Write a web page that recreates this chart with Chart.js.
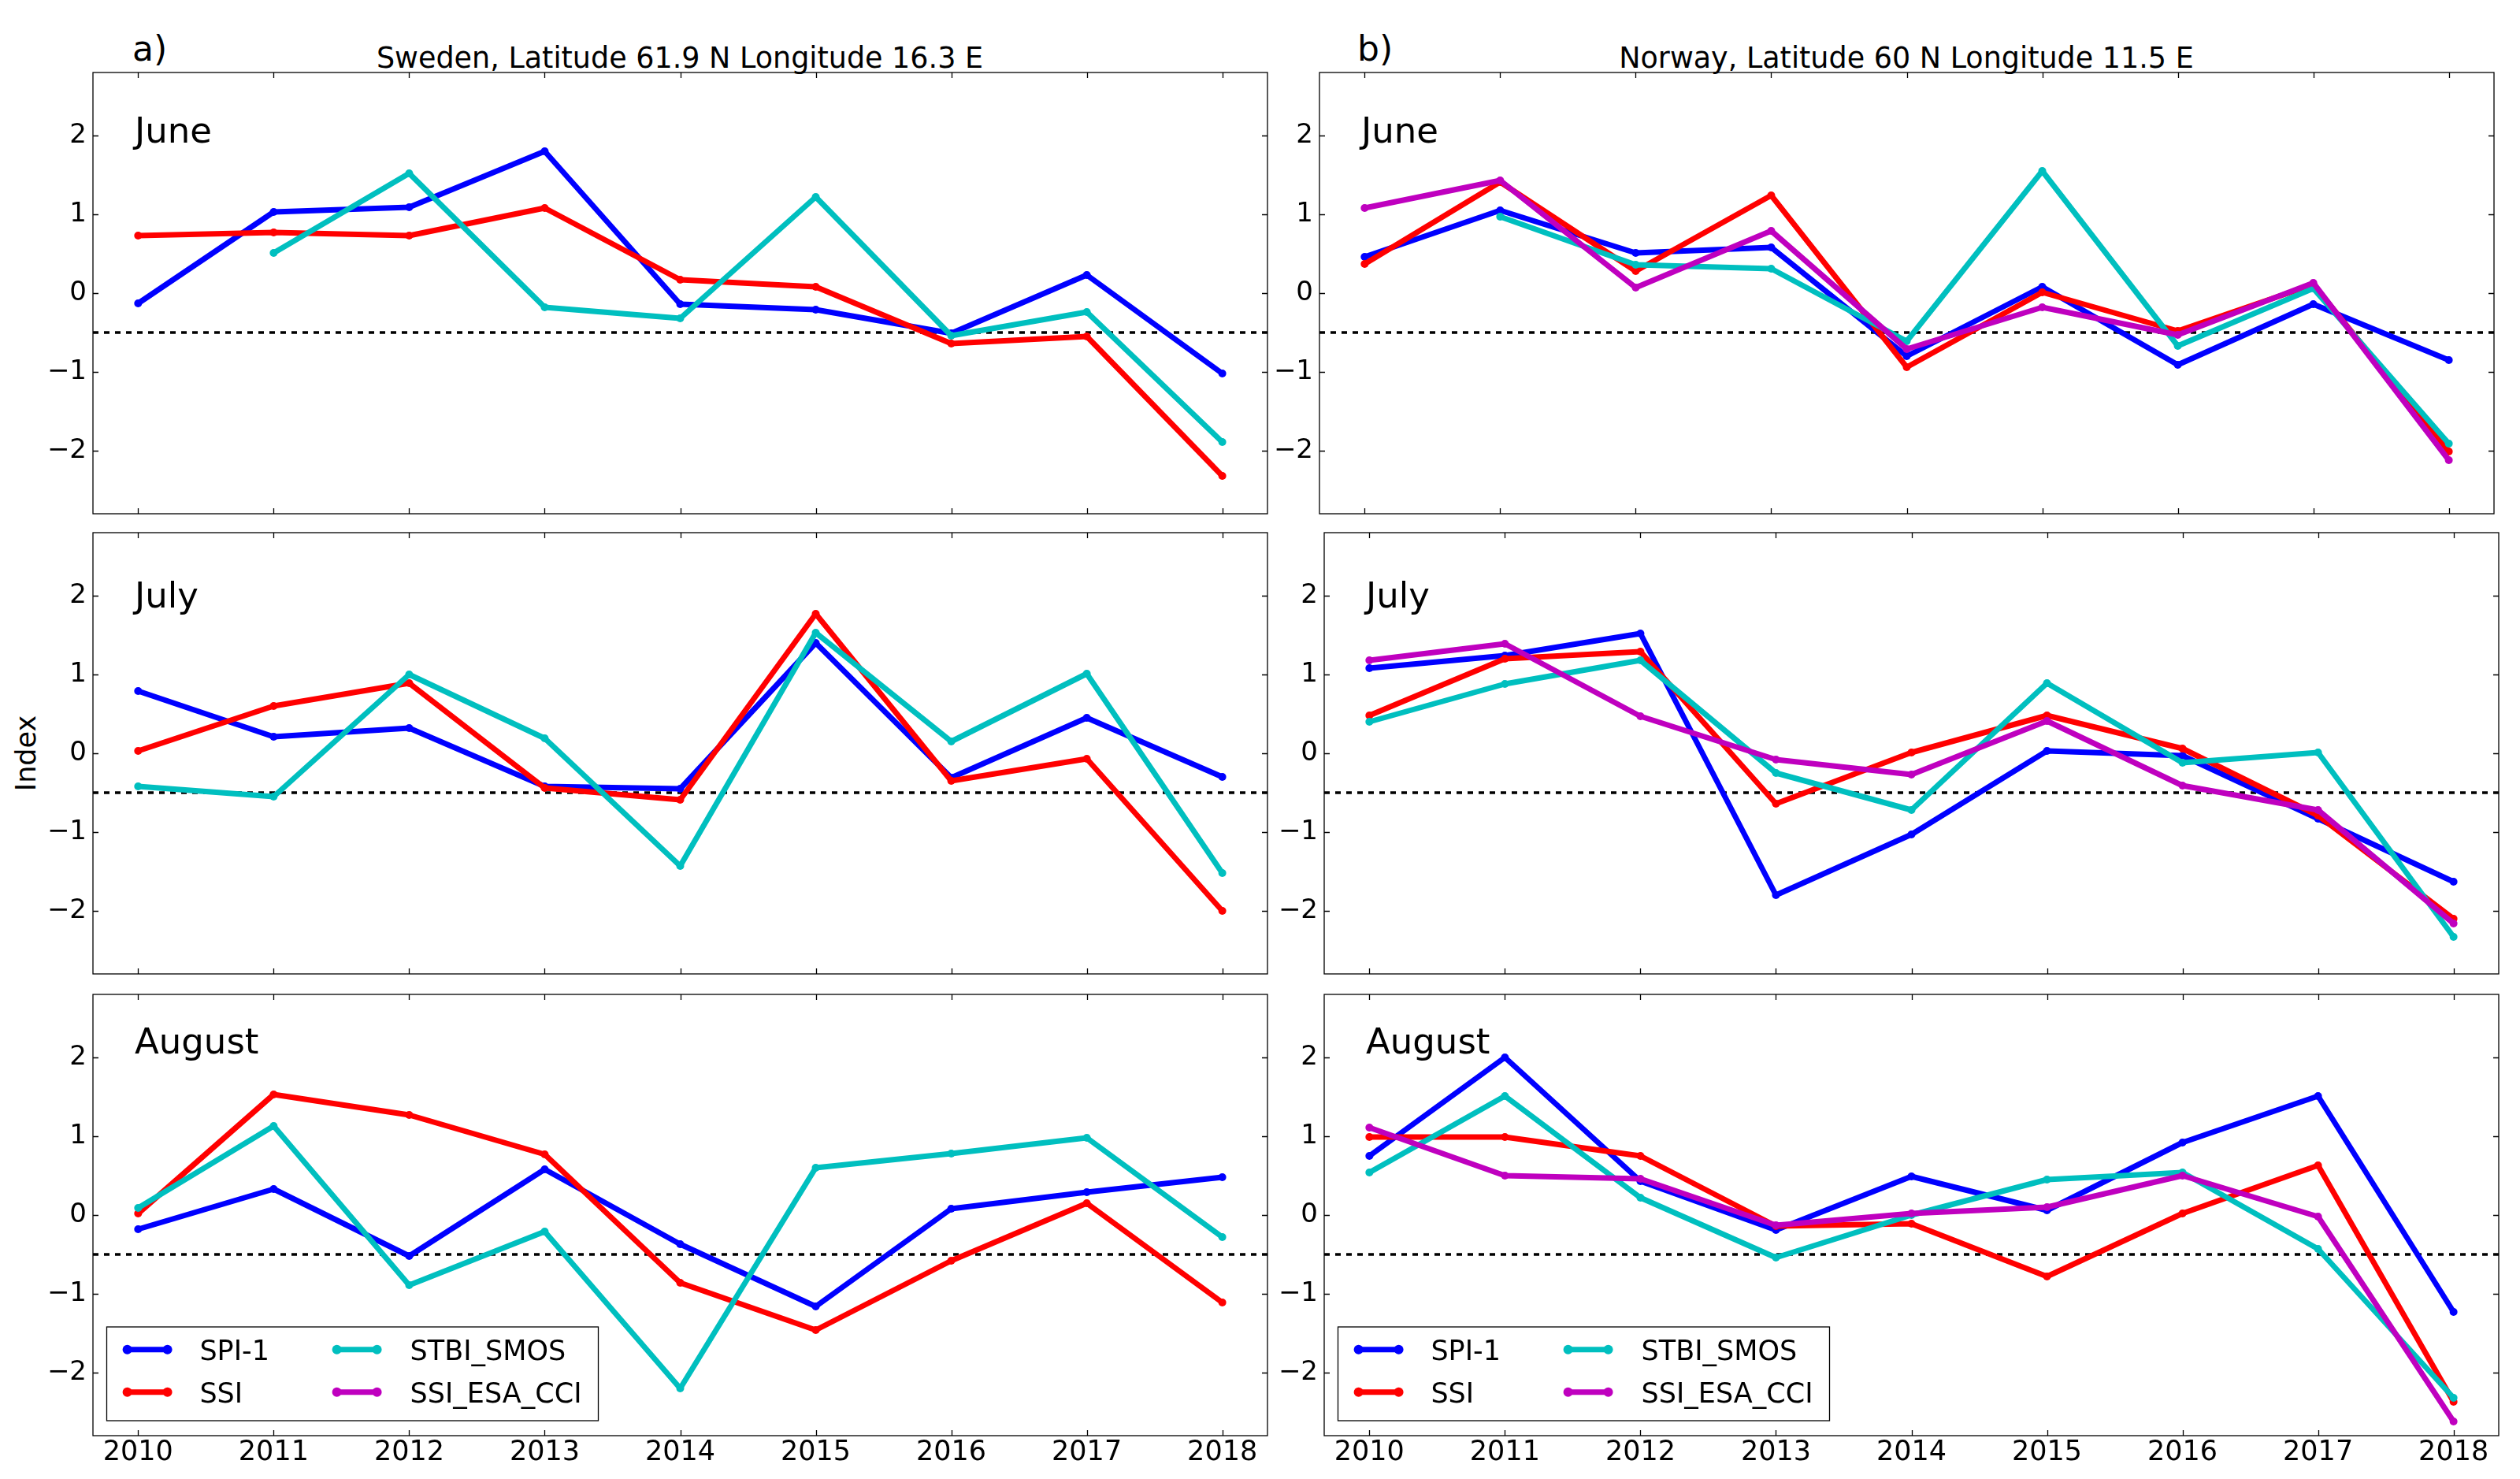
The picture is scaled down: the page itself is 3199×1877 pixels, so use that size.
<!DOCTYPE html>
<html>
<head>
<meta charset="utf-8">
<script src="https://cdn.jsdelivr.net/npm/chart.js@4.4.1/dist/chart.umd.min.js"></script>
<style>
  html, body { margin: 0; padding: 0; background: #fff; }
  body { width: 3199px; height: 1877px; position: relative; overflow: hidden; font-family: 'DejaVu Sans', sans-serif; }
  canvas { position: absolute; }
  .txt { position: absolute; white-space: nowrap; line-height: 1; color: #000; }
</style>
</head>
<body>
<div class="txt" style="left:168px; top:40px; font-size:44px;">a)</div>
<div class="txt" style="left:1723px; top:40px; font-size:44px;">b)</div>
<div class="txt" style="left:863px; top:56px; font-size:36.5px; transform:translateX(-50%);">Sweden, Latitude 61.9 N Longitude 16.3 E</div>
<div class="txt" style="left:2420px; top:56px; font-size:36.5px; transform:translateX(-50%);">Norway, Latitude 60 N Longitude 11.5 E</div>
<div class="txt" style="left:33px; top:956px; font-size:35px; transform:translate(-50%,-50%) rotate(-90deg);">Index</div>

<script>
// Common data
const YEARS = [2010, 2011, 2012, 2013, 2014, 2015, 2016, 2017, 2018];
const Y_TICKS = [-2, -1, 0, 1, 2];
const SERIES_NAMES = ['SPI-1', 'SSI', 'STBI_SMOS', 'SSI_ESA_CCI'];
const MONTHS = ['June', 'July', 'August'];
const THRESHOLD = -0.5;

// Sweden, Latitude 61.9 N Longitude 16.3 E
const SWE_JUN_SPI  = [-0.13, 1.03, 1.09, 1.80, -0.14, -0.21, -0.51, 0.23, -1.02];
const SWE_JUN_SSI  = [0.73, 0.77, 0.73, 1.08, 0.17, 0.08, -0.64, -0.55, -2.32];
const SWE_JUN_STBI = [null, 0.51, 1.52, -0.18, -0.32, 1.22, -0.54, -0.24, -1.89];

const SWE_JUL_SPI  = [0.79, 0.21, 0.32, -0.42, -0.45, 1.40, -0.31, 0.45, -0.30];
const SWE_JUL_SSI  = [0.03, 0.60, 0.89, -0.44, -0.59, 1.77, -0.35, -0.07, -2.00];
const SWE_JUL_STBI = [-0.42, -0.55, 1.00, 0.19, -1.43, 1.53, 0.15, 1.01, -1.52];

const SWE_AUG_SPI  = [-0.18, 0.33, -0.52, 0.58, -0.37, -1.16, 0.08, 0.29, 0.48];
const SWE_AUG_SSI  = [0.02, 1.53, 1.27, 0.77, -0.86, -1.46, -0.58, 0.15, -1.11];
const SWE_AUG_STBI = [0.09, 1.13, -0.89, -0.21, -2.20, 0.60, 0.78, 0.98, -0.28];

// Norway, Latitude 60 N Longitude 11.5 E
const NOR_JUN_SPI  = [0.46, 1.05, 0.51, 0.58, -0.80, 0.08, -0.91, -0.14, -0.85];
const NOR_JUN_SSI  = [0.37, 1.41, 0.28, 1.24, -0.94, 0.01, -0.48, 0.11, -2.01];
const NOR_JUN_STBI = [null, 0.97, 0.36, 0.31, -0.61, 1.55, -0.67, 0.06, -1.91];
const NOR_JUN_ESA  = [1.08, 1.43, 0.07, 0.79, -0.71, -0.18, -0.53, 0.13, -2.12];

const NOR_JUL_SPI  = [1.08, 1.24, 1.52, -1.80, -1.03, 0.03, -0.03, -0.83, -1.63];
const NOR_JUL_SSI  = [0.48, 1.20, 1.29, -0.64, 0.01, 0.48, 0.06, -0.79, -2.10];
const NOR_JUL_STBI = [0.40, 0.88, 1.18, -0.25, -0.72, 0.89, -0.12, 0.01, -2.33];
const NOR_JUL_ESA  = [1.18, 1.39, 0.47, -0.08, -0.27, 0.41, -0.41, -0.72, -2.16];

const NOR_AUG_SPI  = [0.75, 2.00, 0.43, -0.19, 0.49, 0.06, 0.92, 1.51, -1.23];
const NOR_AUG_SSI  = [0.99, 0.99, 0.75, -0.14, -0.11, -0.78, 0.02, 0.63, -2.37];
const NOR_AUG_STBI = [0.54, 1.51, 0.22, -0.54, 0.00, 0.45, 0.54, -0.43, -2.32];
const NOR_AUG_ESA  = [1.11, 0.50, 0.46, -0.13, 0.02, 0.10, 0.50, -0.02, -2.62];

const NO_DATA = [null, null, null, null, null, null, null, null, null];

// Styles
const COLORS = ['#0000ff', '#ff0000', '#00bfbf', '#bf00bf'];
const FONT = "'DejaVu Sans', sans-serif";

// Panel layout (plot area boxes in page pixels)
const PAD_L = 118, PAD_T = 10, PAD_R = 15;
const PLOT_W = 1491, PLOT_H = 560;
const ROW_TOPS = [92, 676, 1262];
const MONTH_BASELINE = [89, 95, 75];

// Chart.js pads the chart area for edge labels; keep the box fixed instead
function noScalePadding(s) {
  s.paddingTop = 0; s.paddingBottom = 0; s.paddingLeft = 0; s.paddingRight = 0;
}

// Draws the -0.5 line, frame, inward ticks, month label and legend
const decorPlugin = {
  id: 'decor',
  beforeDatasetsDraw(chart) {
    const { ctx, chartArea: ca } = chart;
    const y = chart.scales.y.getPixelForValue(THRESHOLD);
    ctx.save();
    ctx.strokeStyle = '#000';
    ctx.lineWidth = 3.5;
    ctx.setLineDash([7, 7]);
    ctx.beginPath();
    ctx.moveTo(ca.left, y);
    ctx.lineTo(ca.right, y);
    ctx.stroke();
    ctx.restore();
  },
  afterDatasetsDraw(chart) {
    const { ctx, chartArea: ca } = chart;
    const xs = chart.scales.x, ys = chart.scales.y;
    ctx.save();
    ctx.strokeStyle = '#000';
    ctx.lineWidth = 1.3;
    ctx.strokeRect(ca.left, ca.top, ca.right - ca.left, ca.bottom - ca.top);
    ctx.beginPath();
    YEARS.forEach(v => {
      const x = Math.round(xs.getPixelForValue(v)) + 0.5;
      ctx.moveTo(x, ca.bottom); ctx.lineTo(x, ca.bottom - 7);
      ctx.moveTo(x, ca.top); ctx.lineTo(x, ca.top + 7);
    });
    Y_TICKS.forEach(v => {
      const y = Math.round(ys.getPixelForValue(v)) + 0.5;
      ctx.moveTo(ca.left, y); ctx.lineTo(ca.left + 7, y);
      ctx.moveTo(ca.right, y); ctx.lineTo(ca.right - 7, y);
    });
    ctx.stroke();
    ctx.restore();
  },
  afterDraw(chart, args, opts) {
    const { ctx, chartArea: ca } = chart;
    ctx.save();
    ctx.fillStyle = '#000';
    ctx.textBaseline = 'alphabetic';
    ctx.textAlign = 'left';
    ctx.font = '45px ' + FONT;
    ctx.fillText(opts.month, ca.left + 53, ca.top + opts.monthBaseline);

    if (opts.legend) {
      const bx = ca.left + 17.5, by = ca.bottom - 138;
      ctx.fillStyle = '#fff';
      ctx.fillRect(bx, by, 624, 119);
      ctx.strokeStyle = '#000';
      ctx.lineWidth = 1.3;
      ctx.strokeRect(bx, by, 624, 119);
      ctx.font = '35px ' + FONT;
      chart.data.datasets.forEach((ds, i) => {
        const col = Math.floor(i / 2), row = i % 2;
        const x0 = ca.left + [43.6, 309.6][col];
        const x1 = x0 + 51;
        const y = ca.bottom + [-109.3, -55.3][row];
        ctx.strokeStyle = ds.borderColor;
        ctx.fillStyle = ds.borderColor;
        ctx.lineWidth = 7;
        ctx.beginPath();
        ctx.moveTo(x0, y); ctx.lineTo(x1, y);
        ctx.stroke();
        [x0, x1].forEach(px => {
          ctx.beginPath();
          ctx.arc(px, y, 6, 0, Math.PI * 2);
          ctx.fill();
        });
        ctx.fillStyle = '#000';
        ctx.fillText(ds.label, ca.left + [135.4, 402.6][col], y + 12.8);
      });
    }
    ctx.restore();
  }
};

function makePanel(plotLeft, plotTop, row, series) {
  const bottomRow = row === 2;
  const padB = bottomRow ? 55 : 12;
  const canvas = document.createElement('canvas');
  canvas.width = PLOT_W + PAD_L + PAD_R;
  canvas.height = PLOT_H + PAD_T + padB;
  canvas.style.left = (plotLeft - PAD_L) + 'px';
  canvas.style.top = (plotTop - PAD_T) + 'px';
  document.body.appendChild(canvas);

  const datasets = series.map((vals, i) => ({
    label: SERIES_NAMES[i],
    data: YEARS.map((yr, j) => ({ x: yr, y: vals[j] })),
    borderColor: COLORS[i],
    backgroundColor: COLORS[i],
    borderWidth: 7,
    borderJoinStyle: 'round',
    pointRadius: 5,
    pointBorderWidth: 0,
    pointBackgroundColor: COLORS[i],
    tension: 0,
    spanGaps: false,
    order: series.length - i
  }));

  return new Chart(canvas.getContext('2d'), {
    type: 'line',
    data: { datasets },
    options: {
      responsive: false,
      animation: false,
      devicePixelRatio: 1,
      layout: { padding: { left: 0, top: PAD_T, right: PAD_R, bottom: 0 } },
      plugins: {
        legend: { display: false },
        tooltip: { enabled: false },
        decor: { month: MONTHS[row], monthBaseline: MONTH_BASELINE[row], legend: bottomRow }
      },
      scales: {
        x: {
          type: 'linear',
          min: 2010 - 1 / 3,
          max: 2018 + 1 / 3,
          grid: { display: false, drawTicks: false },
          border: { display: false },
          afterBuildTicks: s => { s.ticks = YEARS.map(v => ({ value: v })); },
          afterFit: s => { s.height = padB; noScalePadding(s); },
          ticks: {
            display: bottomRow,
            padding: 1,
            color: '#000',
            font: { family: FONT, size: 35 },
            maxRotation: 0,
            callback: v => String(v)
          }
        },
        y: {
          min: -2.8,
          max: 2.8,
          grid: { display: false, drawTicks: false },
          border: { display: false },
          afterBuildTicks: s => { s.ticks = Y_TICKS.map(v => ({ value: v })); },
          afterFit: s => { s.width = PAD_L; noScalePadding(s); },
          ticks: {
            padding: 8,
            color: '#000',
            font: { family: FONT, size: 34 },
            callback: v => (v < 0 ? '\u2212' + Math.abs(v) : String(v))
          }
        }
      }
    },
    plugins: [decorPlugin]
  });
}

// Sweden column
makePanel(118, ROW_TOPS[0], 0, [SWE_JUN_SPI, SWE_JUN_SSI, SWE_JUN_STBI, NO_DATA]);
makePanel(118, ROW_TOPS[1], 1, [SWE_JUL_SPI, SWE_JUL_SSI, SWE_JUL_STBI, NO_DATA]);
makePanel(118, ROW_TOPS[2], 2, [SWE_AUG_SPI, SWE_AUG_SSI, SWE_AUG_STBI, NO_DATA]);

// Norway column (top panel sits a few pixels further left)
makePanel(1675, ROW_TOPS[0], 0, [NOR_JUN_SPI, NOR_JUN_SSI, NOR_JUN_STBI, NOR_JUN_ESA]);
makePanel(1681, ROW_TOPS[1], 1, [NOR_JUL_SPI, NOR_JUL_SSI, NOR_JUL_STBI, NOR_JUL_ESA]);
makePanel(1681, ROW_TOPS[2], 2, [NOR_AUG_SPI, NOR_AUG_SSI, NOR_AUG_STBI, NOR_AUG_ESA]);
</script>
</body>
</html>
